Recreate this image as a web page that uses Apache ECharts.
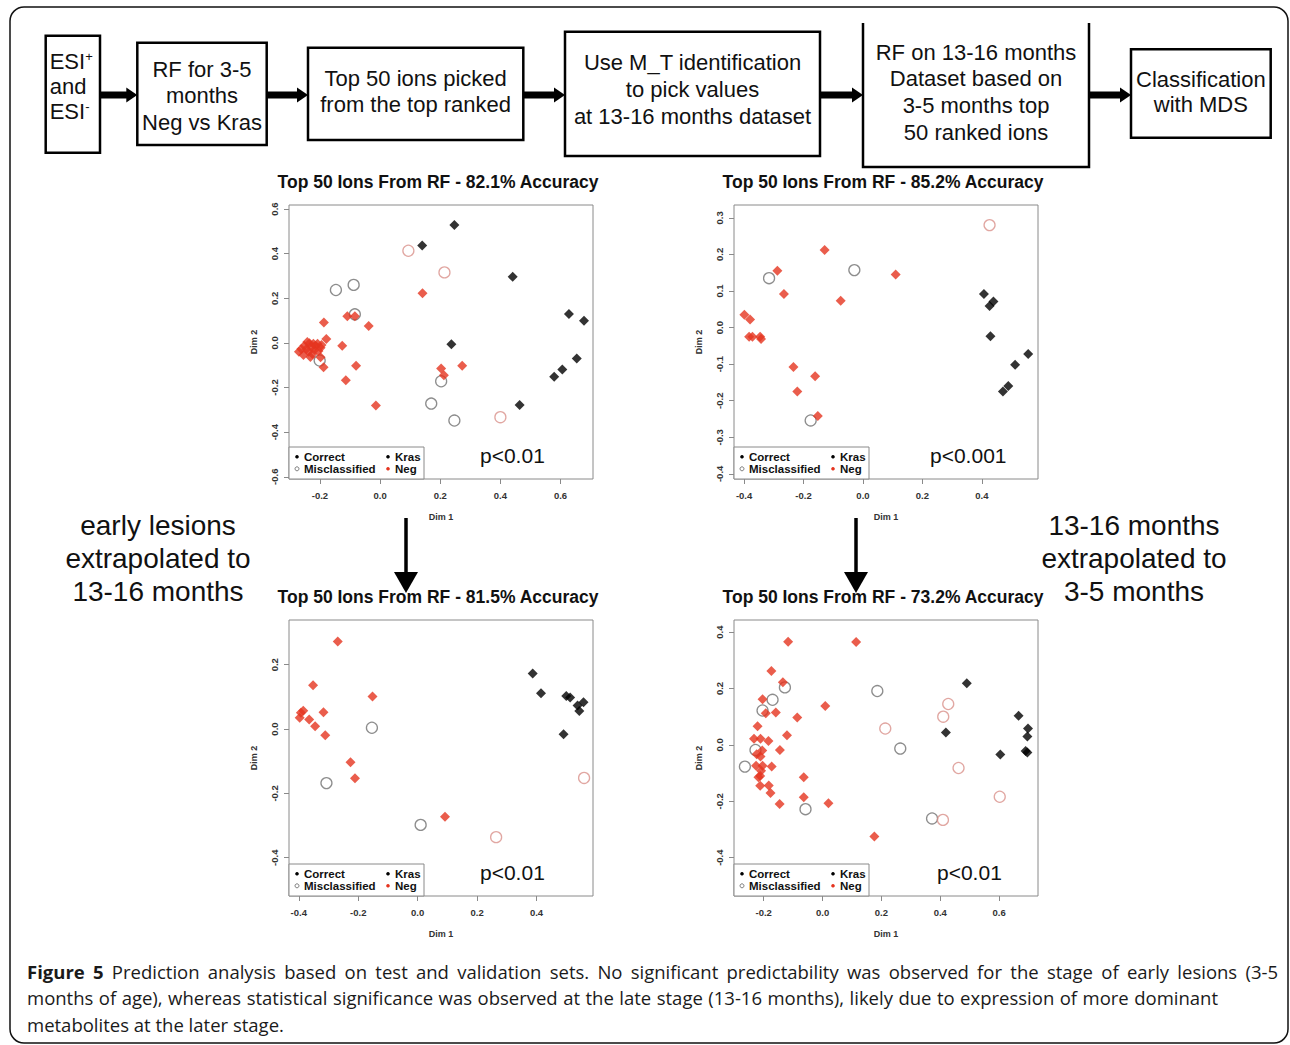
<!DOCTYPE html>
<html><head><meta charset="utf-8">
<script src="https://cdn.jsdelivr.net/npm/echarts@6.0.0/dist/echarts.min.js"></script>
<style>html,body{margin:0;padding:0;background:#fff}#c{width:1290px;height:1045px}</style>
</head><body><div id="c"></div>
<script>
// ---------------- data ----------------
const panelTitles = ['Top 50 Ions From RF - 82.1% Accuracy','Top 50 Ions From RF - 85.2% Accuracy','Top 50 Ions From RF - 81.5% Accuracy','Top 50 Ions From RF - 73.2% Accuracy'];
const pValueLabels = ['p<0.01','p<0.001','p<0.01','p<0.01'];
const legendLabels = ['Correct','Misclassified','Kras','Neg'];
const xAxisName = 'Dim 1', yAxisName = 'Dim 2';

const p1XTicks = [-0.2,0,0.2,0.4,0.6];
const p1YTicks = [-0.6,-0.4,-0.2,0,0.2,0.4,0.6];
const p2XTicks = [-0.4,-0.2,0,0.2,0.4];
const p2YTicks = [-0.4,-0.3,-0.2,-0.1,0,0.1,0.2,0.3];
const p3XTicks = [-0.4,-0.2,0,0.2,0.4];
const p3YTicks = [-0.4,-0.2,0,0.2];
const p4XTicks = [-0.2,0,0.2,0.4,0.6];
const p4YTicks = [-0.4,-0.2,0,0.2,0.4];

const p1KrasCorrect = [[0.247,0.528],[0.140,0.436],[0.441,0.296],[0.628,0.130],[0.678,0.099],[0.237,-0.006],[0.654,-0.070],[0.606,-0.119],[0.579,-0.152],[0.464,-0.278]];
const p1NegCorrect = [[0.141,0.222],[-0.187,0.091],[-0.109,0.119],[-0.084,0.119],[-0.038,0.076],[-0.179,0.018],[-0.126,-0.013],[-0.080,-0.103],[-0.188,-0.109],[-0.114,-0.167],[-0.014,-0.281],[-0.198,-0.064],[0.203,-0.115],[0.212,-0.145],[0.273,-0.103],
  [-0.270,-0.040],[-0.262,-0.027],[-0.252,-0.013],[-0.245,-0.027],[-0.238,-0.040],[-0.235,-0.002],[-0.228,-0.018],[-0.225,-0.050],[-0.218,-0.031],[-0.215,-0.013],[-0.208,-0.004],[-0.205,-0.036],[-0.198,-0.022],[-0.195,-0.009],[-0.255,-0.054],[-0.232,-0.063],[-0.242,0.004],[-0.222,-0.004]];
const p1KrasMisclassified = [[-0.147,0.237],[-0.088,0.260],[-0.084,0.128],[-0.201,-0.079],[0.203,-0.172],[0.170,-0.272],[0.247,-0.348]];
const p1NegMisclassified = [[0.094,0.413],[0.214,0.316],[0.400,-0.333]];

const p2KrasCorrect = [[0.407,0.092],[0.426,0.059],[0.439,0.071],[0.429,-0.024],[0.556,-0.072],[0.512,-0.102],[0.489,-0.160],[0.471,-0.175]];
const p2NegCorrect = [[-0.129,0.212],[-0.288,0.155],[-0.266,0.092],[0.110,0.145],[-0.075,0.073],[-0.399,0.035],[-0.380,0.022],[-0.383,-0.025],[-0.372,-0.025],[-0.346,-0.025],[-0.343,-0.031],[-0.234,-0.108],[-0.161,-0.133],[-0.221,-0.175],[-0.152,-0.242]];
const p2KrasMisclassified = [[-0.316,0.135],[-0.029,0.157],[-0.176,-0.254]];
const p2NegMisclassified = [[0.426,0.280]];

const p3KrasCorrect = [[0.387,0.173],[0.415,0.111],[0.500,0.103],[0.513,0.098],[0.538,0.073],[0.558,0.083],[0.544,0.056],[0.491,-0.016]];
const p3NegCorrect = [[-0.269,0.272],[-0.352,0.136],[-0.152,0.101],[-0.385,0.057],[-0.393,0.051],[-0.317,0.052],[-0.397,0.035],[-0.365,0.030],[-0.345,0.009],[-0.311,-0.019],[-0.226,-0.103],[-0.211,-0.153],[0.092,-0.273]];
const p3KrasMisclassified = [[-0.154,0.004],[-0.307,-0.168],[0.010,-0.298]];
const p3NegMisclassified = [[0.264,-0.336],[0.560,-0.152]];

const p4KrasCorrect = [[0.490,0.219],[0.419,0.044],[0.666,0.103],[0.698,0.058],[0.696,0.030],[0.690,-0.022],[0.696,-0.027],[0.604,-0.034]];
const p4NegCorrect = [[-0.117,0.366],[0.114,0.365],[-0.174,0.262],[-0.135,0.222],[-0.204,0.162],[-0.193,0.112],[-0.159,0.115],[0.009,0.138],[-0.086,0.097],[-0.221,0.066],[-0.121,0.034],[-0.233,0.022],[-0.211,0.022],[-0.184,0.014],[-0.205,-0.020],[-0.224,-0.033],[-0.211,-0.041],[-0.145,-0.018],[-0.226,-0.074],[-0.204,-0.074],[-0.173,-0.077],[-0.209,-0.092],[-0.212,-0.110],[-0.218,-0.115],[-0.212,-0.145],[-0.183,-0.144],[-0.177,-0.171],[-0.064,-0.115],[-0.064,-0.186],[-0.146,-0.210],[0.020,-0.207],[0.176,-0.325]];
const p4KrasMisclassified = [[-0.128,0.204],[-0.170,0.160],[-0.204,0.122],[-0.228,-0.018],[-0.264,-0.077],[-0.058,-0.228],[0.186,0.191],[0.264,-0.013],[0.372,-0.261]];
const p4NegMisclassified = [[0.427,0.145],[0.410,0.100],[0.213,0.058],[0.462,-0.082],[0.409,-0.266],[0.602,-0.184]];

const flowTexts = [
  ['ESI+','and','ESI-'],
  ['RF for 3-5','months','Neg vs Kras'],
  ['Top 50 ions picked','from the top ranked'],
  ['Use M_T identification','to pick values','at 13-16 months dataset'],
  ['RF on 13-16 months','Dataset based on','3-5 months top','50 ranked ions'],
  ['Classification','with MDS']
];
const sideTextLeft = ['early lesions','extrapolated to','13-16 months'];
const sideTextRight = ['13-16 months','extrapolated to','3-5 months'];
const captionBold = 'Figure 5';
const captionLines = [
  'Prediction analysis based on test and validation sets. No significant predictability was observed for the stage of early lesions (3-5',
  'months of age), whereas statistical significance was observed at the late stage (13-16 months), likely due to expression of more dominant',
  'metabolites at the later stage.'
];

// ---------------- layout ----------------
const FONT = '"Liberation Sans", Arial, Helvetica, sans-serif';
const RED = '#e5341f', PINK = '#d9918b', GRAY = '#707070';
const panels = [
  {grid:{left:289, top:205, width:304, height:274}, x:[-0.303,0.708], y:[-0.610,0.618], xt:p1XTicks, yt:p1YTicks,
   kc:p1KrasCorrect, nc:p1NegCorrect, km:p1KrasMisclassified, nm:p1NegMisclassified, pdx:191},
  {grid:{left:734, top:205, width:304, height:274}, x:[-0.434,0.589], y:[-0.414,0.335], xt:p2XTicks, yt:p2YTicks,
   kc:p2KrasCorrect, nc:p2NegCorrect, km:p2KrasMisclassified, nm:p2NegMisclassified, pdx:196},
  {grid:{left:289, top:620, width:304, height:276}, x:[-0.433,0.590], y:[-0.519,0.339], xt:p3XTicks, yt:p3YTicks,
   kc:p3KrasCorrect, nc:p3NegCorrect, km:p3KrasMisclassified, nm:p3NegMisclassified, pdx:191},
  {grid:{left:734, top:620, width:304, height:276}, x:[-0.301,0.732], y:[-0.536,0.443], xt:p4XTicks, yt:p4YTicks,
   kc:p4KrasCorrect, nc:p4NegCorrect, km:p4KrasMisclassified, nm:p4NegMisclassified, pdx:203}
];
const fmt = v => (Math.abs(v) < 1e-9 ? '0.0' : v.toFixed(1));
const tickStyle = {fontFamily:FONT, fontWeight:'bold', fontSize:9.5, color:'#333'};

const grids = [], xAxes = [], yAxes = [], series = [], graphics = [];
panels.forEach((p, i) => {
  grids.push(Object.assign({show:true, borderColor:'#8a8a8a', borderWidth:1, backgroundColor:'#fff', containLabel:false, outerBoundsMode:'none'}, p.grid));
  xAxes.push({gridIndex:i, type:'value', min:p.x[0], max:p.x[1], name:xAxisName, nameLocation:'middle', nameGap:33,
    nameTextStyle:{fontFamily:FONT, fontWeight:'bold', fontSize:9, color:'#333'},
    axisLine:{show:false, onZero:false}, splitLine:{show:false},
    axisTick:{show:true, inside:false, length:5, customValues:p.xt, lineStyle:{color:'#8a8a8a'}},
    axisLabel:Object.assign({customValues:p.xt, formatter:fmt, margin:11}, tickStyle)});
  yAxes.push({gridIndex:i, type:'value', min:p.y[0], max:p.y[1], name:yAxisName, nameLocation:'middle', nameGap:31, nameRotate:90,
    nameTextStyle:{fontFamily:FONT, fontWeight:'bold', fontSize:9, color:'#333'},
    axisLine:{show:false, onZero:false}, splitLine:{show:false},
    axisTick:{show:true, inside:false, length:5, customValues:p.yt, lineStyle:{color:'#8a8a8a'}},
    axisLabel:Object.assign({customValues:p.yt, formatter:fmt, margin:10, rotate:90}, tickStyle)});
  const base = {type:'scatter', xAxisIndex:i, yAxisIndex:i, silent:true, animation:false};
  series.push(Object.assign({}, base, {data:p.km, symbol:'circle', symbolSize:11, z:2,
    itemStyle:{color:'rgba(0,0,0,0)', borderColor:GRAY, borderWidth:1.3}}));
  series.push(Object.assign({}, base, {data:p.nm, symbol:'circle', symbolSize:11, z:2,
    itemStyle:{color:'rgba(0,0,0,0)', borderColor:PINK, borderWidth:1.3}}));
  series.push(Object.assign({}, base, {data:p.nc, symbol:'diamond', symbolSize:10, z:3, itemStyle:{color:RED}}));
  series.push(Object.assign({}, base, {data:p.kc, symbol:'diamond', symbolSize:10, z:3, itemStyle:{color:'#000'}}));

  const g = p.grid, L = g.left, T = g.top, B = g.top + g.height, cx = g.left + g.width/2;
  graphics.push({type:'text', x:cx - 3, y:T - 23, z:100, style:{text:panelTitles[i], fontFamily:FONT, fontWeight:'bold', fontSize:17.5, fill:'#111', align:'center', verticalAlign:'middle'}});
  graphics.push({type:'text', x:L + p.pdx, y:B - 24, z:100, style:{text:pValueLabels[i], fontFamily:FONT, fontSize:21, fill:'#111', align:'left', verticalAlign:'middle'}});
  const lt = {fontFamily:FONT, fontWeight:'bold', fontSize:11.5, fill:'#111', align:'left', verticalAlign:'middle'};
  graphics.push({type:'group', x:L, y:B - 32, z:100, children:[
    {type:'rect', shape:{x:0, y:0, width:135, height:32}, style:{fill:'#fff', stroke:'#8a8a8a', lineWidth:1}},
    {type:'circle', shape:{cx:8, cy:9.8, r:1.8}, style:{fill:'#000'}},
    {type:'text', x:15, y:9.8, style:Object.assign({text:legendLabels[0]}, lt)},
    {type:'circle', shape:{cx:8, cy:21.8, r:2}, style:{fill:'none', stroke:GRAY, lineWidth:0.9}},
    {type:'text', x:15, y:21.8, style:Object.assign({text:legendLabels[1]}, lt)},
    {type:'circle', shape:{cx:99, cy:9.8, r:1.8}, style:{fill:'#000'}},
    {type:'text', x:106, y:9.8, style:Object.assign({text:legendLabels[2]}, lt)},
    {type:'circle', shape:{cx:99, cy:21.8, r:1.8}, style:{fill:RED}},
    {type:'text', x:106, y:21.8, style:Object.assign({text:legendLabels[3]}, lt)}
  ]});
});

// outer frame
graphics.push({type:'rect', z:1, shape:{x:10, y:7, width:1278, height:1036, r:14}, style:{fill:'none', stroke:'#111', lineWidth:1.5}});

// flowchart boxes
const boxStyle = {fill:'#fff', stroke:'#000', lineWidth:2.5};
const boxes = [
  {x:45.7, y:35.7, w:54.3, h:117},
  {x:137.3, y:42.7, w:129.4, h:102.3},
  {x:308, y:47.7, w:215.3, h:92.3},
  {x:565, y:31.7, w:255, h:124.3},
  {x:863, y:23, w:226, h:144, open:true},
  {x:1131, y:49.3, w:139.7, h:88.4}
];
const flowLineY = [[61.7,86.7,111.7],[69,95.5,122],[78,104],[62.7,89.3,116],[52,78.5,105,132],[79,104.3]];
boxes.forEach((b, i) => {
  if (b.open) {
    graphics.push({type:'polyline', z:100, shape:{points:[[b.x,b.y],[b.x,b.y+b.h],[b.x+b.w,b.y+b.h],[b.x+b.w,b.y]]}, style:{fill:'none', stroke:'#000', lineWidth:2.5}});
  } else {
    graphics.push({type:'rect', z:100, shape:{x:b.x, y:b.y, width:b.w, height:b.h}, style:boxStyle});
  }
  flowTexts[i].forEach((t, j) => {
    if (i === 0) {
      const isSup = t.startsWith('ESI');
      const txt = isSup ? '{n|ESI}{s|' + t.slice(3) + '}' : '{n|' + t + '}';
      graphics.push({type:'text', z:101, x:b.x + 4, y:flowLineY[i][j], style:{text:txt, align:'left', verticalAlign:'middle',
        rich:{n:{fontFamily:FONT, fontSize:22, fill:'#111', lineHeight:24}, s:{fontFamily:FONT, fontSize:13, fill:'#111', verticalAlign:'top', lineHeight:13}}}});
    } else {
      graphics.push({type:'text', z:101, x:b.x + b.w/2, y:flowLineY[i][j], style:{text:t, fontFamily:FONT, fontSize:22, fill:'#111', align:'center', verticalAlign:'middle'}});
    }
  });
});
// flowchart arrows
const arrows = [[100,137.3],[266.7,308],[523.3,565],[820,863],[1089,1131]];
arrows.forEach(a => {
  const y = 95;
  graphics.push({type:'line', z:100, shape:{x1:a[0], y1:y, x2:a[1] - 9, y2:y}, style:{stroke:'#000', lineWidth:7}});
  graphics.push({type:'polygon', z:100, shape:{points:[[a[1]-11,y-7.5],[a[1],y],[a[1]-11,y+7.5]]}, style:{fill:'#000'}});
});
// vertical arrows
[406, 856].forEach(x => {
  graphics.push({type:'line', z:100, shape:{x1:x, y1:518, x2:x, y2:578}, style:{stroke:'#000', lineWidth:3.5}});
  graphics.push({type:'polygon', z:100, shape:{points:[[x-12,572],[x+12,572],[x,593]]}, style:{fill:'#000'}});
});
// side texts
[[sideTextLeft,158],[sideTextRight,1134]].forEach(([lines, cx]) => {
  lines.forEach((t, j) => graphics.push({type:'text', z:100, x:cx, y:525 + j*33.3, style:{text:t, fontFamily:FONT, fontSize:28, fill:'#111', align:'center', verticalAlign:'middle'}}));
});
// caption (justified lines, words laid out from measured widths)
const capFamily = '"Open Sans", "Noto Sans", sans-serif';
const CAP_SIZE = 18.5, CAP_LEFT = 27;
const capRight = [1278, 1218, null];
const capY = [971, 997.5, 1024];
const mctx = document.createElement('canvas').getContext('2d');
const measure = (t, bold) => { mctx.font = (bold ? 'bold ' : '') + CAP_SIZE + 'px "Open Sans", "Noto Sans", sans-serif'; return mctx.measureText(t).width; };
captionLines.forEach((line, j) => {
  const words = line.split(' ').map(w => ({t:w, b:false}));
  if (j === 0) words.unshift({t:'Figure', b:true}, {t:'5', b:true});
  const widths = words.map(w => measure(w.t, w.b));
  const space = measure(' ', false);
  const natural = widths.reduce((s, w) => s + w, 0) + space * (words.length - 1);
  const gap = capRight[j] ? space + (capRight[j] - CAP_LEFT - natural) / (words.length - 1) : space;
  let x = CAP_LEFT;
  words.forEach((w, k) => {
    graphics.push({type:'text', z:100, x:x, y:capY[j], style:{text:w.t, fontFamily:capFamily, fontWeight:w.b ? 'bold' : 'normal', fontSize:CAP_SIZE, fill:'#1a1a1a', align:'left', verticalAlign:'middle'}});
    x += widths[k] + gap;
  });
});

const chart = echarts.init(document.getElementById('c'), null, {renderer:'svg', width:1290, height:1045});
chart.setOption({
  backgroundColor:'#fff',
  animation:false,
  grid:grids, xAxis:xAxes, yAxis:yAxes, series:series,
  graphic:{elements:graphics}
});
</script>
</body></html>
